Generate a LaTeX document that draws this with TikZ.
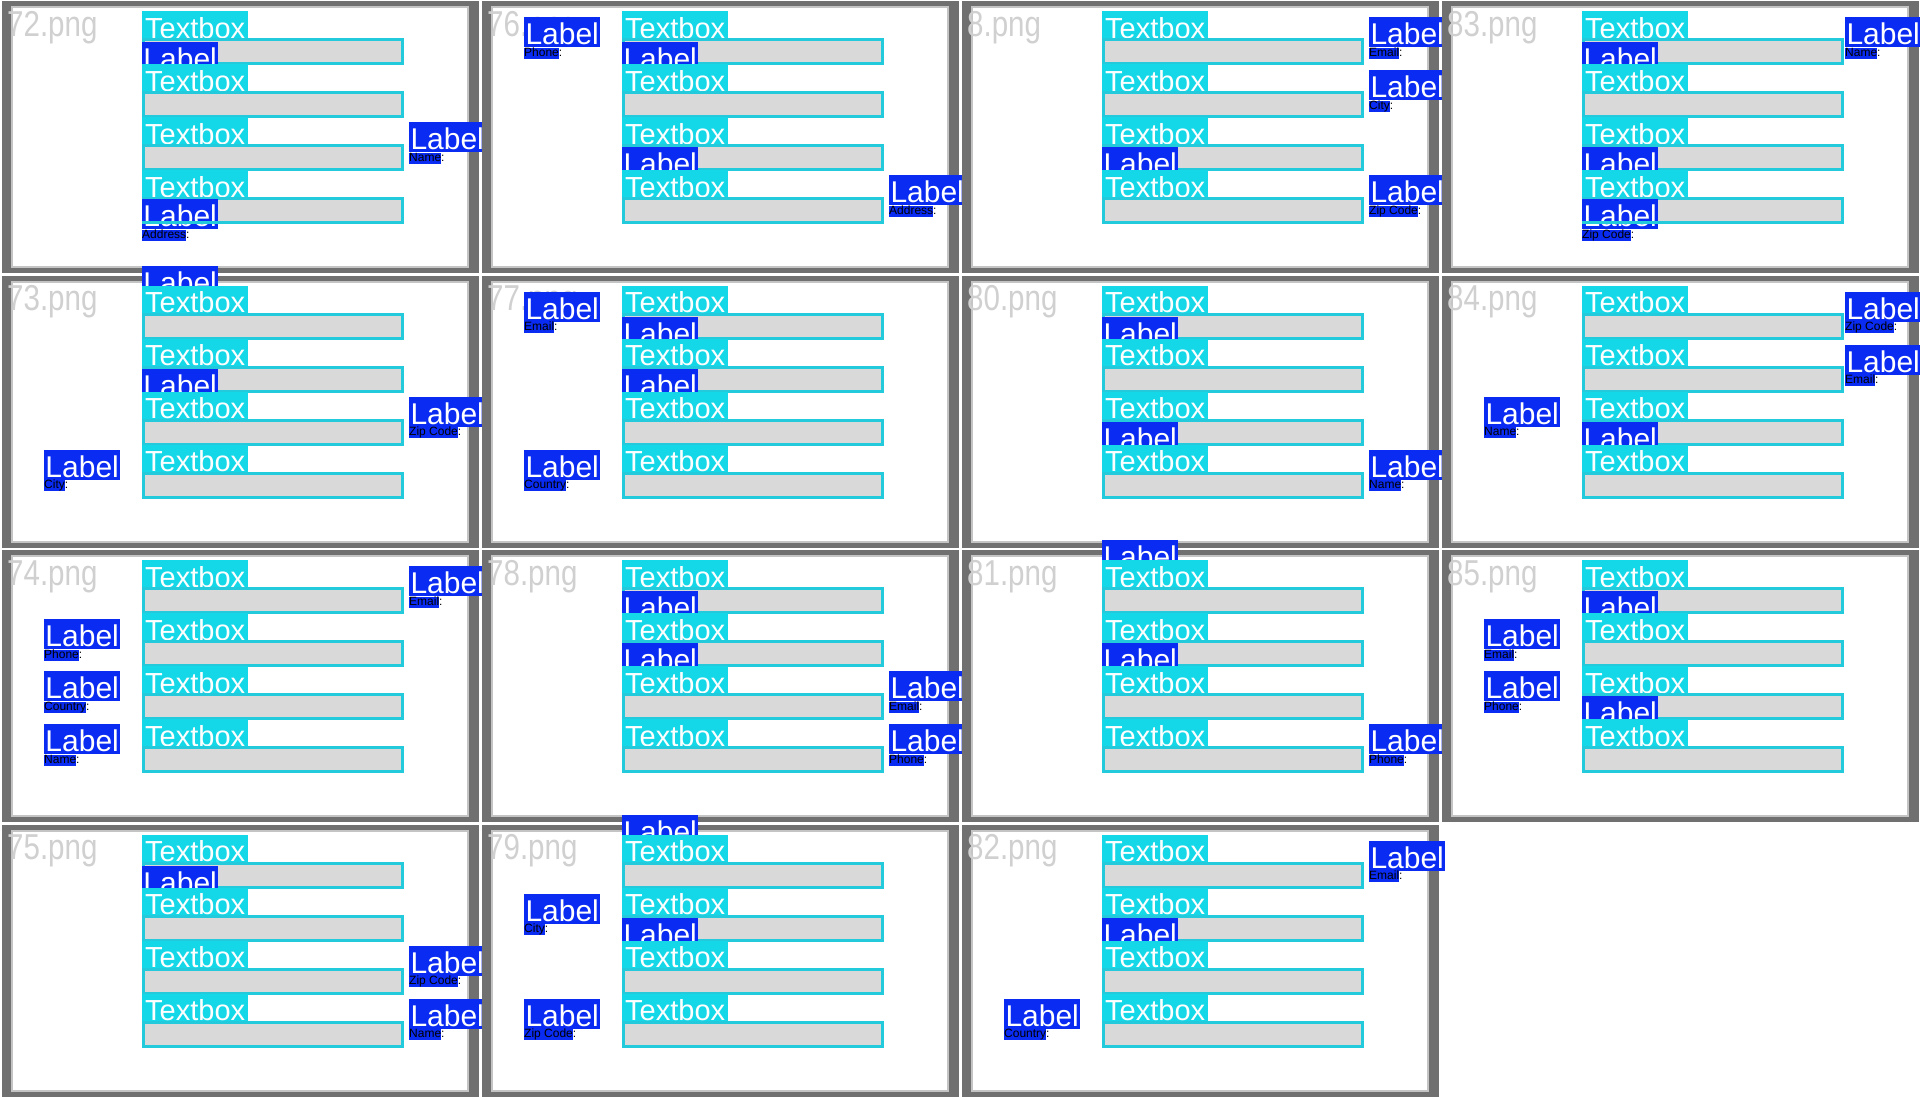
\documentclass[tikz,border=0pt]{standalone}
\usepackage{fontspec}
\setmainfont{Liberation Sans}
\usepackage{graphicx}

\definecolor{framegray}{HTML}{707070}
\definecolor{framelight}{HTML}{C4C4C4}
\definecolor{titlegray}{HTML}{D0D0D0}
\definecolor{tbcyan}{HTML}{14D7E7}
\definecolor{tbborder}{HTML}{22CADB}
\definecolor{inputgray}{HTML}{D9D9D9}
\definecolor{lblblue}{HTML}{0A2BF2}

% one screenshot: frame and file name
\newcommand{\panelframe}[2]{%
  \fill [framegray] (2,1) rectangle (479,273);
  \fill [white] (12,7) rectangle (468,267);
  \draw [framelight, line width=2pt] (12,7) rectangle (468,267);
  \node [shottitle] (#1-t) at (7,36) {\scalebox{0.82}[1]{#2}};}
% textbox header and its input field, rows 1..4
\newcommand{\textboxrow}[2]{%
  \node [tbhead] (#1-h#2) at (142,{11+53*(#2-1)}) {Textbox};
  \node [tbinput] (#1-i#2) at (142,{38+53*(#2-1)}) {};}
% blue label with its small caption
\newcommand{\labelbox}[4]{%
  \node [lbl] (#1) at (#2,#3) {Label};
  \node [lblsub] (#1-b) at (#1.south west) {\phantom{#4}};
  \node [lbltxt] (#1-s) at (#1-b.base west) {#4:};}
\newcommand{\labelonly}[3]{%
  \node [lbl] (#1) at (#2,#3) {Label};}

\begin{document}
\begin{tikzpicture}[x=1pt,y=-1pt]
      \tikzstyle{shottitle}=[anchor=base west, inner sep=0pt, text=titlegray, font=\fontsize{36}{36}\selectfont]
      \tikzstyle{tbhead}=[anchor=north west, fill=tbcyan, text=white, inner xsep=3pt, inner ysep=0pt, text height=27pt, text depth=0pt, font=\fontsize{29}{29}\selectfont]
      \tikzstyle{tbinput}=[anchor=north west, fill=inputgray, draw=tbborder, line width=3pt, inner sep=0pt, minimum width=259pt, minimum height=24pt]
      \tikzstyle{tbedge}=[tbborder, line width=3pt]
      \tikzstyle{lbl}=[anchor=north west, fill=lblblue, text=white, inner xsep=1pt, inner ysep=0pt, text height=27.5pt, text depth=2.5pt, minimum width=76pt, font=\fontsize{30}{30}\selectfont]
      \tikzstyle{lblsub}=[anchor=north west, fill=lblblue, inner sep=0pt, text height=8.5pt, text depth=2.5pt, font=\fontsize{12}{12}\selectfont]
      \tikzstyle{lbltxt}=[anchor=base west, inner sep=0pt, text=black, font=\fontsize{12}{12}\selectfont]
      \useasboundingbox [fill=white] (0,0) rectangle (1920,1100);
      % column 1
      \begin{scope}[shift={(0,0)}]
        \panelframe{p72}{72.png}
        \textboxrow{p72}{1}
        \labelonly{p72-a}{142}{42}
        \textboxrow{p72}{2}
        \textboxrow{p72}{3}
        \textboxrow{p72}{4}
        \labelbox{p72-b}{142}{199}{Address}
        \draw [tbedge] ([yshift=1.5pt]p72-i4.south west) -- ([yshift=1.5pt]p72-i4.south east);
        \labelbox{p72-c}{409}{122}{Name}
      \end{scope}
      \begin{scope}[shift={(0,274.5)}]
        \panelframe{p73}{73.png}
        \labelonly{p73-a}{142}{-9}
        \textboxrow{p73}{1}
        \textboxrow{p73}{2}
        \labelonly{p73-b}{142}{94}
        \textboxrow{p73}{3}
        \textboxrow{p73}{4}
        \labelbox{p73-c}{409}{122}{Zip Code}
        \labelbox{p73-d}{44}{175}{City}
      \end{scope}
      \begin{scope}[shift={(0,549)}]
        \panelframe{p74}{74.png}
        \textboxrow{p74}{1}
        \textboxrow{p74}{2}
        \textboxrow{p74}{3}
        \textboxrow{p74}{4}
        \labelbox{p74-a}{409}{17}{Email}
        \labelbox{p74-b}{44}{70}{Phone}
        \labelbox{p74-c}{44}{122}{Country}
        \labelbox{p74-d}{44}{175}{Name}
      \end{scope}
      \begin{scope}[shift={(0,823.5)}]
        \panelframe{p75}{75.png}
        \textboxrow{p75}{1}
        \labelonly{p75-a}{142}{42}
        \textboxrow{p75}{2}
        \textboxrow{p75}{3}
        \textboxrow{p75}{4}
        \labelbox{p75-b}{409}{122}{Zip Code}
        \labelbox{p75-c}{409}{175}{Name}
      \end{scope}
      % column 2
      \begin{scope}[shift={(480,0)}]
        \panelframe{p76}{76.png}
        \textboxrow{p76}{1}
        \labelonly{p76-a}{142}{42}
        \textboxrow{p76}{2}
        \textboxrow{p76}{3}
        \labelonly{p76-b}{142}{147}
        \textboxrow{p76}{4}
        \labelbox{p76-c}{44}{17}{Phone}
        \labelbox{p76-d}{409}{175}{Address}
      \end{scope}
      \begin{scope}[shift={(480,274.5)}]
        \panelframe{p77}{77.png}
        \textboxrow{p77}{1}
        \labelonly{p77-a}{142}{42}
        \textboxrow{p77}{2}
        \labelonly{p77-b}{142}{94}
        \textboxrow{p77}{3}
        \textboxrow{p77}{4}
        \labelbox{p77-c}{44}{17}{Email}
        \labelbox{p77-d}{44}{175}{Country}
      \end{scope}
      \begin{scope}[shift={(480,549)}]
        \panelframe{p78}{78.png}
        \textboxrow{p78}{1}
        \labelonly{p78-a}{142}{42}
        \textboxrow{p78}{2}
        \labelonly{p78-b}{142}{94}
        \textboxrow{p78}{3}
        \textboxrow{p78}{4}
        \labelbox{p78-c}{409}{122}{Email}
        \labelbox{p78-d}{409}{175}{Phone}
      \end{scope}
      \begin{scope}[shift={(480,823.5)}]
        \panelframe{p79}{79.png}
        \labelonly{p79-a}{142}{-9}
        \textboxrow{p79}{1}
        \textboxrow{p79}{2}
        \labelonly{p79-b}{142}{94}
        \textboxrow{p79}{3}
        \textboxrow{p79}{4}
        \labelbox{p79-c}{44}{70}{City}
        \labelbox{p79-d}{44}{175}{Zip Code}
      \end{scope}
      % column 3
      \begin{scope}[shift={(960,0)}]
        \panelframe{p8}{8.png}
        \textboxrow{p8}{1}
        \textboxrow{p8}{2}
        \textboxrow{p8}{3}
        \labelonly{p8-a}{142}{147}
        \textboxrow{p8}{4}
        \labelbox{p8-b}{409}{17}{Email}
        \labelbox{p8-c}{409}{70}{City}
        \labelbox{p8-d}{409}{175}{Zip Code}
      \end{scope}
      \begin{scope}[shift={(960,274.5)}]
        \panelframe{p80}{80.png}
        \textboxrow{p80}{1}
        \labelonly{p80-a}{142}{42}
        \textboxrow{p80}{2}
        \textboxrow{p80}{3}
        \labelonly{p80-b}{142}{147}
        \textboxrow{p80}{4}
        \labelbox{p80-c}{409}{175}{Name}
      \end{scope}
      \begin{scope}[shift={(960,549)}]
        \panelframe{p81}{81.png}
        \labelonly{p81-a}{142}{-9}
        \textboxrow{p81}{1}
        \textboxrow{p81}{2}
        \labelonly{p81-b}{142}{94}
        \textboxrow{p81}{3}
        \textboxrow{p81}{4}
        \labelbox{p81-c}{409}{175}{Phone}
      \end{scope}
      \begin{scope}[shift={(960,823.5)}]
        \panelframe{p82}{82.png}
        \textboxrow{p82}{1}
        \textboxrow{p82}{2}
        \labelonly{p82-a}{142}{94}
        \textboxrow{p82}{3}
        \textboxrow{p82}{4}
        \labelbox{p82-b}{409}{17}{Email}
        \labelbox{p82-c}{44}{175}{Country}
      \end{scope}
      % column 4
      \begin{scope}[shift={(1440,0)}]
        \panelframe{p83}{83.png}
        \textboxrow{p83}{1}
        \labelonly{p83-a}{142}{42}
        \textboxrow{p83}{2}
        \textboxrow{p83}{3}
        \labelonly{p83-b}{142}{147}
        \textboxrow{p83}{4}
        \labelbox{p83-c}{142}{199}{Zip Code}
        \draw [tbedge] ([yshift=1.5pt]p83-i4.south west) -- ([yshift=1.5pt]p83-i4.south east);
        \labelbox{p83-d}{405}{17}{Name}
      \end{scope}
      \begin{scope}[shift={(1440,274.5)}]
        \panelframe{p84}{84.png}
        \textboxrow{p84}{1}
        \textboxrow{p84}{2}
        \textboxrow{p84}{3}
        \labelonly{p84-a}{142}{147}
        \textboxrow{p84}{4}
        \labelbox{p84-b}{405}{17}{Zip Code}
        \labelbox{p84-c}{405}{70}{Email}
        \labelbox{p84-d}{44}{122}{Name}
      \end{scope}
      \begin{scope}[shift={(1440,549)}]
        \panelframe{p85}{85.png}
        \textboxrow{p85}{1}
        \labelonly{p85-a}{142}{42}
        \textboxrow{p85}{2}
        \textboxrow{p85}{3}
        \labelonly{p85-b}{142}{147}
        \textboxrow{p85}{4}
        \labelbox{p85-c}{44}{70}{Email}
        \labelbox{p85-d}{44}{122}{Phone}
      \end{scope}
\end{tikzpicture}
\end{document}
